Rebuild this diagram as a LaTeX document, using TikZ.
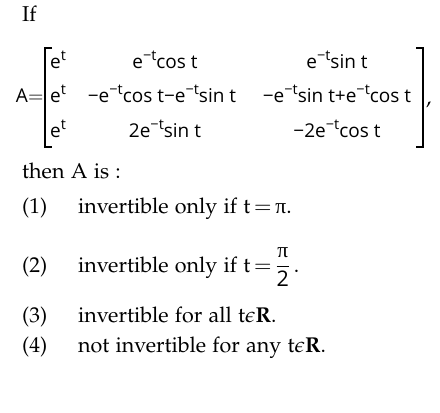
\documentclass[tikz,border=0pt]{standalone}
\usepackage[T1]{fontenc}
\usepackage{mathpazo}
\usepackage[no-math]{fontspec}
\setsansfont{Open Sans}
\newfontfamily\grkfont{Liberation Serif}
\usetikzlibrary{calc}
\newcommand{\palfont}{\fontencoding{T1}\fontfamily{pplx}\fontsize{21.5}{26}\selectfont}
\newcommand{\matfont}{\sffamily\fontsize{19}{22}\selectfont}
\newcommand{\supx}[1]{\raisebox{0.42em}{\fontsize{14.5}{15}\selectfont #1}}
\newcommand{\emt}{e\supx{−t}}
\newcommand{\pitxt}{{\grkfont π}}

\begin{document}
\begin{tikzpicture}[x=1pt, y=-1pt,
    txt/.style={font=\palfont, inner sep=0pt, anchor=base west},
    ent/.style={font=\matfont, inner sep=0pt, anchor=base},
    brak/.style={line width=1.2pt}]
        \useasboundingbox[fill=white] (0,0) rectangle (440,413);

        \node[txt] (if) at (22, 21) {If};

        % the matrix
        \node[ent, anchor=base east] (A) at (44, 102) {A$=$};
        \node[ent, anchor=base west] (m11) at (50, 68) {e\supx{t}};
        \node[ent] (m12) at (165, 68) {\emt cos t};
        \node[ent] (m13) at (337, 68) {\emt sin t};
        \node[ent, anchor=base west] (m21) at (50, 102) {e\supx{t}};
        \node[ent] (m22) at (162, 102) {−\emt cos t−\emt sin t};
        \node[ent] (m23) at (337, 102) {−\emt sin t+\emt cos t};
        \node[ent, anchor=base west] (m31) at (50, 137) {e\supx{t}};
        \node[ent] (m32) at (165, 137) {2\emt sin t};
        \node[ent] (m33) at (337, 137) {−2\emt cos t};

        \coordinate (LT) at (45, 48);
        \coordinate (LB) at (45, 147);
        \coordinate (RT) at (423, 48);
        \coordinate (RB) at (423, 147);
        \draw[brak] ($(LT)+(7,0)$) -- (LT) -- (LB) -- ($(LB)+(7,0)$);
        \draw[brak] ($(RT)+(-7,0)$) -- (RT) -- (RB) -- ($(RB)+(-7,0)$);
        \node[txt] (comma) at (426, 104) {,};

        % the question and options
        \node[txt] (then) at (22, 178) {then A is :};

        \node[txt] (n1) at (22, 213) {(1)};
        \node[txt] (o1) at (78, 213) {invertible only if t$\,{=}\,$\pitxt.};

        \node[txt] (n2) at (22, 272) {(2)};
        \node[txt] (o2) at (78, 272) {invertible only if t$\,{=}\,\displaystyle\frac{\hbox{\pitxt}}{\hbox{\textsf{2}}}$\,.};

        \node[txt] (n3) at (22, 322) {(3)};
        \node[txt] (o3) at (78, 322) {invertible for all t$\epsilon$\textbf{R}.};

        \node[txt] (n4) at (22, 352) {(4)};
        \node[txt] (o4) at (78, 352) {not invertible for any t$\epsilon$\textbf{R}.};
    \end{tikzpicture}
\end{document}
